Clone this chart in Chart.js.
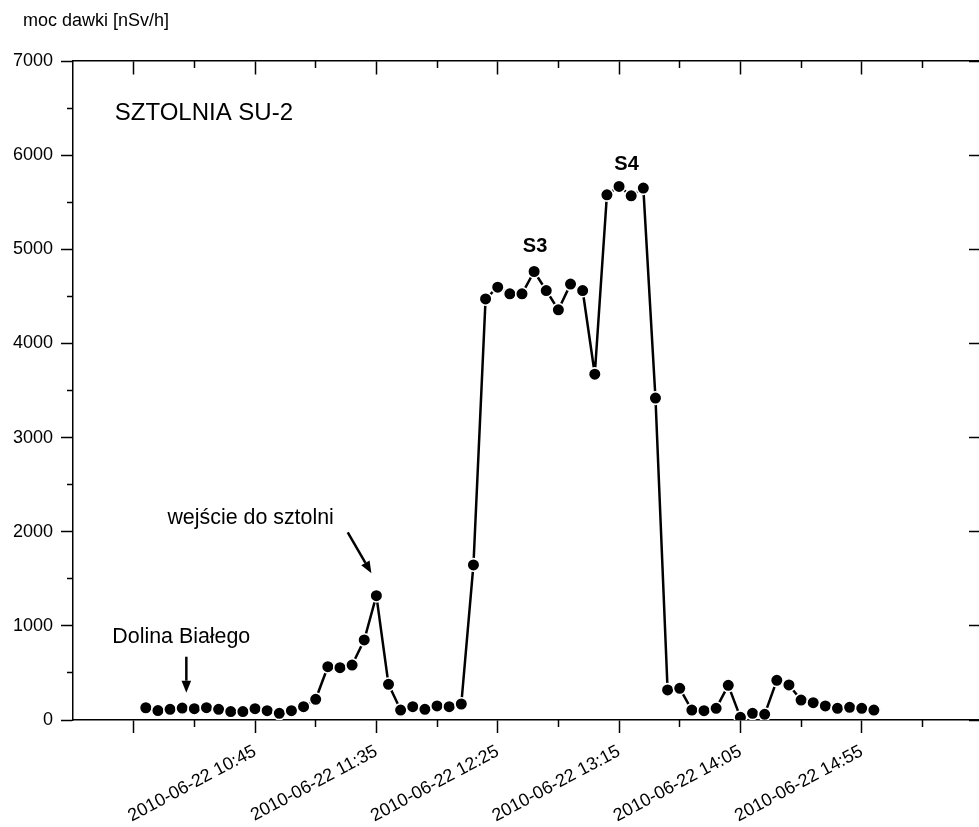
<!DOCTYPE html>
<html>
<head>
<meta charset="utf-8">
<script src="https://cdn.jsdelivr.net/npm/chart.js@4/dist/chart.umd.min.js"></script>
<style>
html, body { margin: 0; padding: 0; overflow: hidden; background: #fff; }
#wrap { position: relative; width: 991px; height: 827px; }
</style>
</head>
<body>
<div id="wrap"><canvas id="c"></canvas></div>
<script>
// ---- data ----
const times = [
  '10:00','10:05','10:10','10:15','10:20','10:25','10:30','10:35','10:40','10:45',
  '10:50','10:55','11:00','11:05','11:10','11:15','11:20','11:25','11:30','11:35',
  '11:40','11:45','11:50','11:55','12:00','12:05','12:10','12:15','12:20','12:25',
  '12:30','12:35','12:40','12:45','12:50','12:55','13:00','13:05','13:10','13:15',
  '13:20','13:25','13:30','13:35','13:40','13:45','13:50','13:55','14:00','14:05',
  '14:10','14:15','14:20','14:25','14:30','14:35','14:40','14:45','14:50','14:55',
  '15:00'
];
const doseRate = [
  130, 100, 113, 127, 120, 131, 113, 89, 89, 120,
  99, 71, 99, 141, 220, 566, 556, 584, 850, 1321,
  379, 106, 141, 113, 149, 141, 170, 1647, 4473, 4598,
  4527, 4527, 4764, 4562, 4357, 4630, 4562, 3673, 5579, 5668,
  5568, 5650, 3420, 319, 337, 106, 99, 124, 368, 28,
  71, 60, 421, 372, 212, 184, 149, 124, 135, 124,
  106
];
const majorTickTimes = ['09:55','10:45','11:35','12:25','13:15','14:05','14:55'];
const majorTickLabels = ['', '2010-06-22 10:45', '2010-06-22 11:35', '2010-06-22 12:25',
                         '2010-06-22 13:15', '2010-06-22 14:05', '2010-06-22 14:55'];
const minorTickTimes = ['10:20','11:10','12:00','12:50','13:40','14:30','15:20'];
const yMajorTicks = [0, 1000, 2000, 3000, 4000, 5000, 6000, 7000];
const yMinorTicks = [500, 1500, 2500, 3500, 4500, 5500, 6500];
const axisStart = '09:30';
const axisEnd = '15:45';
const yMin = 0, yMax = 7000;
const yTitle = 'moc dawki [nSv/h]';
const chartName = 'SZTOLNIA SU-2';

// ---- helpers ----
const toMin = s => { const [h, m] = s.split(':').map(Number); return h * 60 + m; };
const xMin = toMin(axisStart), xMax = toMin(axisEnd);
const majorMins = majorTickTimes.map(toMin);
const minorMins = minorTickTimes.map(toMin);
const setTicks = list => scale => { scale.ticks = list.map(v => ({ value: v })); };
const points = times.map((t, i) => ({ x: toMin(t), y: doseRate[i] }));

const FONT = '"Liberation Sans", Arial, Helvetica, sans-serif';
// annotations (data coordinates: minutes since midnight, dose rate)
const notes = [
  { text: chartName, t: 587.2, v: 6440, font: '24px ' + FONT, align: 'left' },
  { text: 'S3', t: 760.4, v: 5030, font: 'bold 20px ' + FONT, align: 'center' },
  { text: 'S4', t: 798.1, v: 5896, font: 'bold 20px ' + FONT, align: 'center' },
  { text: 'wejście do sztolni', t: 608.9, v: 2146, font: '21.4px ' + FONT, align: 'left' },
  { text: 'Dolina Białego', t: 586.2, v: 882, font: '21.4px ' + FONT, align: 'left' }
];
const arrows = [
  { t1: 616.7, v1: 672, t2: 616.7, v2: 290 },
  { t1: 683.2, v1: 1994, t2: 692.96, v2: 1558 }
];

const annotationPlugin = {
  id: 'annotations',
  afterDatasetsDraw(chart) {
    const { ctx, chartArea } = chart;
    const x = chart.scales.x, y = chart.scales.y;
    ctx.save();
    ctx.fillStyle = '#000';
    ctx.strokeStyle = '#000';
    ctx.textBaseline = 'middle';
    // axis unit title, above the y axis
    ctx.font = '18px ' + FONT;
    ctx.textAlign = 'left';
    ctx.fillText(yTitle, chartArea.left - 50, chartArea.top - 39.5);
    for (const n of notes) {
      ctx.font = n.font;
      ctx.textAlign = n.align;
      ctx.fillText(n.text, x.getPixelForValue(n.t), y.getPixelForValue(n.v));
    }
    ctx.lineWidth = 2.5;
    for (const a of arrows) {
      const x1 = x.getPixelForValue(a.t1), y1 = y.getPixelForValue(a.v1);
      const x2 = x.getPixelForValue(a.t2), y2 = y.getPixelForValue(a.v2);
      const ang = Math.atan2(y2 - y1, x2 - x1);
      const hl = 12, hw = 4.8;
      const bx = x2 - hl * Math.cos(ang), by = y2 - hl * Math.sin(ang);
      ctx.beginPath();
      ctx.moveTo(x1, y1);
      ctx.lineTo(bx, by);
      ctx.stroke();
      ctx.beginPath();
      ctx.moveTo(x2, y2);
      ctx.lineTo(bx + hw * Math.sin(ang), by - hw * Math.cos(ang));
      ctx.lineTo(bx - hw * Math.sin(ang), by + hw * Math.cos(ang));
      ctx.closePath();
      ctx.fill();
    }
    ctx.restore();
  }
};

Chart.defaults.font.family = FONT;
Chart.defaults.font.size = 18;
Chart.defaults.color = '#000';

const tickGrid = len => ({
  display: true, drawOnChartArea: false, drawTicks: true,
  tickLength: len, tickWidth: 1.5, tickColor: '#000'
});

new Chart(document.getElementById('c'), {
  type: 'line',
  data: {
    datasets: [{
      data: points,
      xAxisID: 'x',
      yAxisID: 'y',
      borderColor: '#000',
      borderWidth: 2.5,
      borderJoinStyle: 'round',
      pointRadius: 6.3,
      pointBackgroundColor: '#000',
      pointBorderColor: '#fff',
      pointBorderWidth: 1.6,
      tension: 0,
      fill: false
    }]
  },
  options: {
    responsive: true,
    maintainAspectRatio: false,
    animation: false,
    events: [],
    layout: { padding: { left: 13, right: 0, top: 61, bottom: 0 } },
    plugins: {
      legend: { display: false },
      tooltip: { enabled: false },
      title: { display: false }
    },
    scales: {
      x: {
        type: 'linear', axis: 'x', position: 'bottom', min: xMin, max: xMax,
        afterBuildTicks: setTicks(majorMins),
        afterFit: s => { s.height = 107; },
        grid: tickGrid(13),
        border: { display: true, color: '#000', width: 1.5 },
        ticks: {
          autoSkip: false, maxRotation: 28, minRotation: 28, padding: 8,
          color: '#000', font: { size: 18 },
          callback: v => { const i = majorMins.indexOf(v); return i >= 0 ? majorTickLabels[i] : ''; }
        }
      },
      xMinor: {
        type: 'linear', axis: 'x', position: { y: 0 }, min: xMin, max: xMax,
        afterBuildTicks: setTicks(minorMins),
        grid: tickGrid(7),
        border: { display: false },
        ticks: { display: false }
      },
      xTop: {
        type: 'linear', axis: 'x', position: { y: yMax }, min: xMin, max: xMax,
        afterBuildTicks: setTicks(majorMins),
        grid: tickGrid(13),
        border: { display: true, color: '#000', width: 1.5 },
        ticks: { display: false }
      },
      xTopMinor: {
        type: 'linear', axis: 'x', position: { y: yMax }, min: xMin, max: xMax,
        afterBuildTicks: setTicks(minorMins),
        grid: tickGrid(7),
        border: { display: false },
        ticks: { display: false }
      },
      y: {
        type: 'linear', axis: 'y', position: 'left', min: yMin, max: yMax,
        afterBuildTicks: setTicks(yMajorTicks),
        afterFit: s => { s.width = 60; },
        grid: tickGrid(12),
        border: { display: true, color: '#000', width: 1.5 },
        ticks: { padding: 8, color: '#000', font: { size: 18 }, callback: v => String(v) }
      },
      yMinor: {
        type: 'linear', axis: 'y', position: { x: xMin }, min: yMin, max: yMax,
        afterBuildTicks: setTicks(yMinorTicks),
        grid: tickGrid(6),
        border: { display: false },
        ticks: { display: false }
      },
      yRight: {
        type: 'linear', axis: 'y', position: { x: xMax }, min: yMin, max: yMax,
        afterBuildTicks: setTicks(yMajorTicks),
        grid: tickGrid(13),
        border: { display: true, color: '#000', width: 1.5 },
        ticks: { display: false }
      }
    }
  },
  plugins: [annotationPlugin]
});
</script>
</body>
</html>
